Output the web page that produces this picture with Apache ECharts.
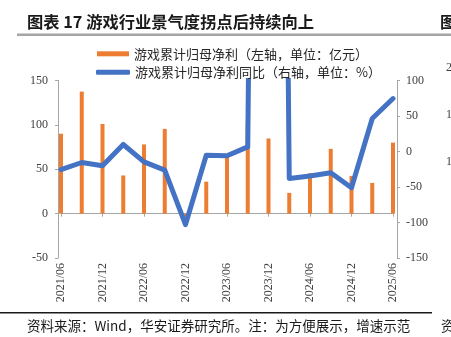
<!DOCTYPE html>
<html>
<head>
<meta charset="utf-8">
<script src="https://cdn.jsdelivr.net/npm/echarts@6/dist/echarts.min.js"></script>
<style>
  html, body { margin: 0; padding: 0; background: #ffffff; }
  #chart { width: 451px; height: 337px; }
</style>
</head>
<body>
<div id="chart"></div>
<script>
// Quarter-end reporting dates
const quarters = ['2021/06', '2021/09', '2021/12', '2022/03', '2022/06', '2022/09', '2022/12',
  '2023/03', '2023/06', '2023/09', '2023/12', '2024/03', '2024/06', '2024/09', '2024/12',
  '2025/03', '2025/06'];
// Cumulative attributable net profit of game companies (100m CNY, left axis)
const netProfit = [90, 137.5, 101, 43, 78, 95.5, -3, 36, 64, 103, 84.7, 23.4, 45.6, 73, 42.5, 34.6, 80];
// Year-on-year growth of the same (%, right axis)
const netProfitYoY = [-25.4, -15.5, -20.2, 9.9, -14.6, -26.3, -103, -5.2, -6, 6.5, 2900, -38, -34.4, -30, -51, 46.5, 74.6];
// Axis ranges
const leftAxisRange = [-50, 150, 50];   // min, max, step
const rightAxisRange = [-150, 100, 50];

const barName = '游戏累计归母净利（左轴，单位：亿元）';
const lineName = '游戏累计归母净利同比（右轴，单位：%）';
const titleText = '图表 17 游戏行业景气度拐点后持续向上';
const sourceText = '资料来源：Wind，华安证券研究所。注：为方便展示，增速示范';

const ORANGE = '#ED7D31';
const BLUE = '#4472C4';
const AXIS_GREY = '#A6A6A6';
const LABEL_COLOR = '#404040';
const SERIF = '"Liberation Serif", "DejaVu Serif", serif';
const CJK = '"Noto Sans CJK SC", "Noto Sans", sans-serif';

const chart = echarts.init(document.getElementById('chart'), null, { renderer: 'canvas' });

const legendText = { fontFamily: CJK, fontSize: 13, color: '#262626', lineHeight: 14 };

chart.setOption({
  animation: false,
  backgroundColor: '#ffffff',
  grid: { left: 61, right: 58, top: 80.5, bottom: 79, containLabel: false },
  legend: [
    {
      left: 97, top: 46.8, padding: 0, itemWidth: 32, itemHeight: 5,
      data: [{ name: barName, icon: 'rect' }],
      textStyle: legendText,
      selectedMode: false
    },
    {
      left: 96, top: 65.3, padding: 0, itemWidth: 34, itemHeight: 5,
      data: [{ name: lineName, icon: 'roundRect' }],
      textStyle: legendText,
      selectedMode: false
    }
  ],
  xAxis: [
    {
      // axis line through zero with ticks
      type: 'category',
      data: quarters,
      boundaryGap: false,
      axisLine: { show: true, onZero: true, lineStyle: { color: AXIS_GREY, width: 1 } },
      axisTick: { show: true, interval: 1, length: 3, lineStyle: { color: AXIS_GREY } },
      axisLabel: { show: false },
      splitLine: { show: false }
    },
    {
      // date labels along the bottom of the plot
      type: 'category',
      data: quarters,
      boundaryGap: false,
      position: 'bottom',
      axisLine: { show: false, onZero: false },
      axisTick: { show: false },
      axisLabel: {
        show: true, interval: 1, rotate: 90, margin: 5,
        fontFamily: SERIF, fontSize: 12, color: LABEL_COLOR
      },
      splitLine: { show: false }
    }
  ],
  yAxis: [
    {
      type: 'value',
      min: leftAxisRange[0], max: leftAxisRange[1], interval: leftAxisRange[2],
      position: 'left', offset: 3,
      axisLine: { show: true, lineStyle: { color: AXIS_GREY } },
      axisTick: { show: true, length: 3, lineStyle: { color: AXIS_GREY } },
      axisLabel: { margin: 10, fontFamily: SERIF, fontSize: 12, color: LABEL_COLOR },
      splitLine: { show: false }
    },
    {
      type: 'value',
      min: rightAxisRange[0], max: rightAxisRange[1], interval: rightAxisRange[2],
      position: 'right', offset: 4,
      axisLine: { show: true, lineStyle: { color: AXIS_GREY } },
      axisTick: { show: true, length: 3, lineStyle: { color: AXIS_GREY } },
      axisLabel: { margin: 9, fontFamily: SERIF, fontSize: 12, color: LABEL_COLOR },
      splitLine: { show: false }
    }
  ],
  series: [
    {
      name: barName,
      type: 'bar',
      xAxisIndex: 0,
      yAxisIndex: 0,
      data: netProfit,
      barWidth: 4,
      itemStyle: { color: ORANGE },
      z: 2
    },
    {
      name: lineName,
      type: 'line',
      xAxisIndex: 0,
      yAxisIndex: 1,
      data: netProfitYoY,
      showSymbol: false,
      symbol: 'none',
      clip: true,
      lineStyle: { color: BLUE, width: 5, join: 'round', cap: 'round' },
      itemStyle: { color: BLUE },
      z: 3
    }
  ],
  graphic: [
    {
      type: 'text', silent: true, x: 27, y: 21.5,
      style: {
        text: titleText, fontFamily: CJK, fontWeight: 'bold', fontSize: 16.3,
        fill: '#1a1a1a', verticalAlign: 'middle'
      }
    },
    { type: 'rect', shape: { x: 17, y: 33.5, width: 434, height: 2.5 }, style: { fill: '#A5A5A5' }, silent: true },
    { type: 'rect', shape: { x: 0, y: 312, width: 432, height: 1.5 }, style: { fill: '#1a1a1a' }, silent: true },
    {
      type: 'text', silent: true, x: 27, y: 326,
      style: { text: sourceText, fontFamily: CJK, fontSize: 13.5, fill: '#1a1a1a', verticalAlign: 'middle' }
    },
    // neighbouring panel fragments at the right edge
    { type: 'text', silent: true, x: 440, y: 21.5,
      style: { text: '图', fontFamily: CJK, fontWeight: 'bold', fontSize: 16.3, fill: '#1a1a1a', verticalAlign: 'middle' } },
    { type: 'text', silent: true, x: 441, y: 326,
      style: { text: '资', fontFamily: CJK, fontSize: 13.5, fill: '#1a1a1a', verticalAlign: 'middle' } },
    { type: 'text', silent: true, x: 446, y: 68,
      style: { text: '2', fontFamily: SERIF, fontSize: 12, fill: LABEL_COLOR, verticalAlign: 'middle' } },
    { type: 'text', silent: true, x: 446, y: 115,
      style: { text: '1', fontFamily: SERIF, fontSize: 12, fill: LABEL_COLOR, verticalAlign: 'middle' } },
    { type: 'text', silent: true, x: 446, y: 162,
      style: { text: '1', fontFamily: SERIF, fontSize: 12, fill: LABEL_COLOR, verticalAlign: 'middle' } }
  ]
});
</script>
</body>
</html>
